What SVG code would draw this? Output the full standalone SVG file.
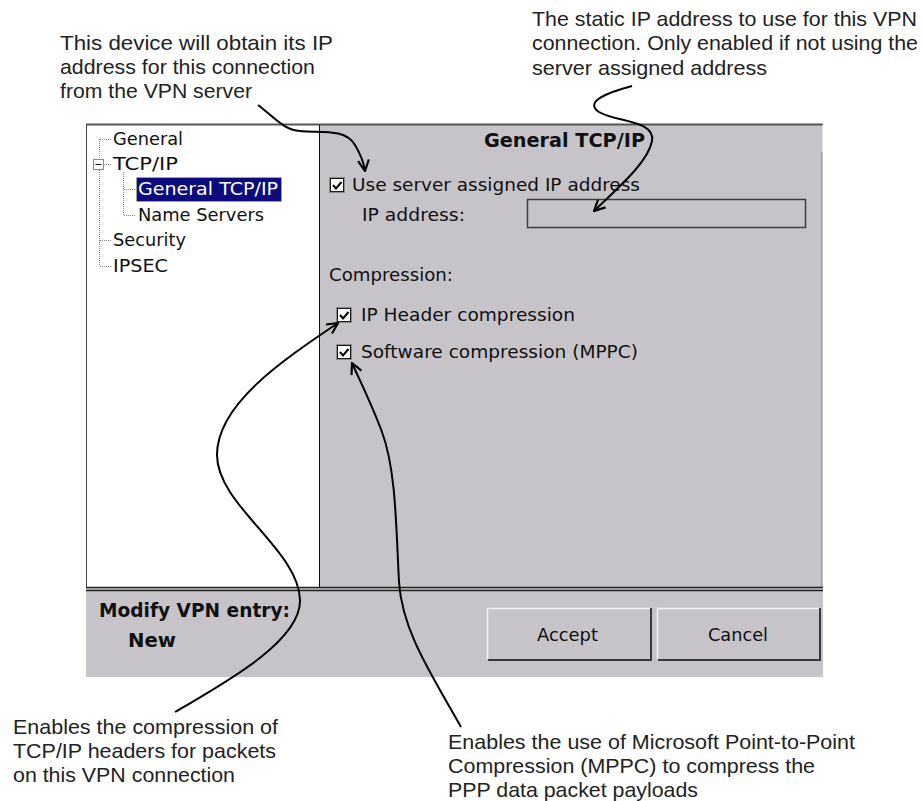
<svg xmlns="http://www.w3.org/2000/svg" width="923" height="801" viewBox="0 0 923 801">
<style>
.ui{font-family:"DejaVu Sans","Liberation Sans",sans-serif;font-size:18px;fill:#101010}
.tree{font-family:"DejaVu Sans","Liberation Sans",sans-serif;font-size:17.5px;fill:#101010}
.b{font-weight:bold}
.note{font-family:"Liberation Sans",Arial,sans-serif;font-size:21px;fill:#222}
.dot{stroke:#8a8a8a;stroke-width:1;stroke-dasharray:1,1;fill:none}
.cb{fill:#fff;stroke:#8a8a8a;stroke-width:1}
.cbi{fill:none;stroke:#1a1a1a;stroke-width:1}
.ck{fill:none;stroke:#000;stroke-width:2}
.btn{fill:#c6c4c9}
.hl{stroke:#f4f4f4;stroke-width:1.5;fill:none}
.sh{stroke:#3a3a3a;stroke-width:2;fill:none}
.conn{fill:none;stroke:#000;stroke-width:2}
</style>
<defs>
<marker id="arr" viewBox="0 0 12 12" refX="11" refY="6" markerWidth="13" markerHeight="13" orient="auto" markerUnits="userSpaceOnUse">
<path d="M1,1 L11,6 L1,11" fill="none" stroke="#000" stroke-width="2"/>
</marker>
</defs>
<rect width="923" height="801" fill="#fff"/>

<g id="window">
<rect x="86.5" y="124.5" width="233" height="463" fill="#fff" stroke="#444" stroke-width="1"/>
<rect x="320" y="125" width="503" height="462" fill="#c6c4c9"/>
<line x1="86" y1="124.5" x2="823" y2="124.5" stroke="#555" stroke-width="2"/>
<line x1="319.5" y1="125" x2="319.5" y2="587" stroke="#111" stroke-width="1"/>
<line x1="821.5" y1="152" x2="821.5" y2="587" stroke="#9a9a9e" stroke-width="1"/>
<line x1="822.5" y1="125" x2="822.5" y2="152" stroke="#e0e0e0" stroke-width="1"/>
<rect x="86" y="587" width="737" height="90" fill="#c6c4c9"/>
<line x1="86" y1="587.5" x2="823" y2="587.5" stroke="#222" stroke-width="1.5"/>
<line x1="86" y1="590.5" x2="823" y2="590.5" stroke="#222" stroke-width="1.5"/>
</g>

<g id="tree">
<line class="dot" x1="99.5" y1="139" x2="99.5" y2="159"/>
<line class="dot" x1="99.5" y1="170" x2="99.5" y2="266"/>
<line class="dot" x1="100" y1="139.5" x2="111" y2="139.5"/>
<line class="dot" x1="104" y1="164.5" x2="111" y2="164.5"/>
<line class="dot" x1="100" y1="240.5" x2="111" y2="240.5"/>
<line class="dot" x1="100" y1="266.5" x2="111" y2="266.5"/>
<line class="dot" x1="123.5" y1="172" x2="123.5" y2="215"/>
<line class="dot" x1="124" y1="189.5" x2="136" y2="189.5"/>
<line class="dot" x1="124" y1="215.5" x2="136" y2="215.5"/>
<rect x="93.5" y="159.5" width="10" height="10" fill="#fff" stroke="#8a8a8a"/>
<line x1="95.5" y1="164.5" x2="101.5" y2="164.5" stroke="#111" stroke-width="1"/>
<text class="tree" x="113" y="145" textLength="70" lengthAdjust="spacingAndGlyphs">General</text>
<text class="tree" x="113" y="170" textLength="65" lengthAdjust="spacingAndGlyphs">TCP/IP</text>
<rect x="136.5" y="177.5" width="145" height="24" fill="#0b0b7e" stroke="#c8c060" stroke-width="1" stroke-dasharray="1,1"/>
<text class="tree" x="138" y="195" textLength="140" lengthAdjust="spacingAndGlyphs" style="fill:#fff">General TCP/IP</text>
<text class="tree" x="138" y="221" textLength="126" lengthAdjust="spacingAndGlyphs">Name Servers</text>
<text class="tree" x="113" y="246" textLength="73" lengthAdjust="spacingAndGlyphs">Security</text>
<text class="tree" x="113" y="272" textLength="55" lengthAdjust="spacingAndGlyphs">IPSEC</text>
</g>

<g id="panel">
<text class="ui b" x="484" y="147" style="font-size:19px" textLength="161" lengthAdjust="spacingAndGlyphs">General TCP/IP</text>
<rect class="cb" x="329.5" y="177.5" width="15" height="15"/>
<rect class="cbi" x="330.5" y="178.5" width="13" height="13"/>
<path class="ck" d="M333,185 L336,188.5 L341.5,182"/>
<text class="ui" x="352" y="191" textLength="288" lengthAdjust="spacingAndGlyphs">Use server assigned IP address</text>
<text class="ui" x="362" y="221" textLength="103" lengthAdjust="spacingAndGlyphs">IP address:</text>
<rect x="527.5" y="199.5" width="278" height="28" fill="#c6c4c9" stroke="#3c3c3c" stroke-width="1.5"/>
<text class="ui" x="329" y="281" textLength="124" lengthAdjust="spacingAndGlyphs">Compression:</text>
<rect class="cb" x="336.5" y="307.5" width="15" height="15"/>
<rect class="cbi" x="337.5" y="308.5" width="13" height="13"/>
<path class="ck" d="M340,315 L343,318.5 L348.5,312"/>
<text class="ui" x="361" y="321" textLength="214" lengthAdjust="spacingAndGlyphs">IP Header compression</text>
<rect class="cb" x="336.5" y="344.5" width="15" height="15"/>
<rect class="cbi" x="337.5" y="345.5" width="13" height="13"/>
<path class="ck" d="M340,352 L343,355.5 L348.5,349"/>
<text class="ui" x="361" y="358" textLength="277" lengthAdjust="spacingAndGlyphs">Software compression (MPPC)</text>
</g>

<g id="bottombar">
<text class="ui b" x="99" y="617" style="font-size:19px" textLength="191" lengthAdjust="spacingAndGlyphs">Modify VPN entry:</text>
<text class="ui b" x="128" y="647" style="font-size:20px" textLength="48" lengthAdjust="spacingAndGlyphs">New</text>
</g>

<g id="accept">
<rect class="btn" x="487" y="608" width="164" height="52"/>
<path class="hl" d="M487.5,659 L487.5,608.5 L650,608.5"/>
<path class="sh" d="M488,660 L651,660 L651,608"/>
<text class="ui" x="537" y="641" textLength="61" lengthAdjust="spacingAndGlyphs">Accept</text>
</g>
<g id="cancel">
<rect class="btn" x="657" y="608" width="163" height="52"/>
<path class="hl" d="M657.5,659 L657.5,608.5 L819,608.5"/>
<path class="sh" d="M658,660 L820,660 L820,608"/>
<text class="ui" x="708" y="641" textLength="60" lengthAdjust="spacingAndGlyphs">Cancel</text>
</g>

<g id="note-server">
<text class="note" x="60" y="50" textLength="273" lengthAdjust="spacingAndGlyphs">This device will obtain its IP</text>
<text class="note" x="60" y="74" textLength="255" lengthAdjust="spacingAndGlyphs">address for this connection</text>
<text class="note" x="60" y="98" textLength="192" lengthAdjust="spacingAndGlyphs">from the VPN server</text>
</g>
<g id="note-static">
<text class="note" x="532" y="26" textLength="385" lengthAdjust="spacingAndGlyphs">The static IP address to use for this VPN</text>
<text class="note" x="532" y="50" textLength="386" lengthAdjust="spacingAndGlyphs">connection. Only enabled if not using the</text>
<text class="note" x="532" y="75" textLength="235" lengthAdjust="spacingAndGlyphs">server assigned address</text>
</g>
<g id="note-header">
<text class="note" x="13" y="734" textLength="265" lengthAdjust="spacingAndGlyphs">Enables the compression of</text>
<text class="note" x="13" y="758" textLength="263" lengthAdjust="spacingAndGlyphs">TCP/IP headers for packets</text>
<text class="note" x="13" y="782" textLength="222" lengthAdjust="spacingAndGlyphs">on this VPN connection</text>
</g>
<g id="note-mppc">
<text class="note" x="448" y="749" textLength="407" lengthAdjust="spacingAndGlyphs">Enables the use of Microsoft Point-to-Point</text>
<text class="note" x="448" y="773" textLength="367" lengthAdjust="spacingAndGlyphs">Compression (MPPC) to compress the</text>
<text class="note" x="448" y="797" textLength="250" lengthAdjust="spacingAndGlyphs">PPP data packet payloads</text>
</g>

<g id="connectors">
<path class="conn" marker-end="url(#arr)" d="M258,105 C275,118 284,130 300,131 C320,133 345,128 355,145 C361,155 364,164 365,171"/>
<path class="conn" marker-end="url(#arr)" d="M632,86 C610,92 583,101 599,112 C615,122 656,120 652,141 C648,162 620,186 594,211"/>
<path class="conn" marker-end="url(#arr)" d="M175,712 C230,680 301,640 300,600 C299,550 217,505 217,455 C217,405 280,362 338,323"/>
<path class="conn" marker-end="url(#arr)" d="M461,727 C430,672 402,630 399,582 C396,525 396,470 382,432 C372,405 361,383 352,363"/>
</g>
</svg>
